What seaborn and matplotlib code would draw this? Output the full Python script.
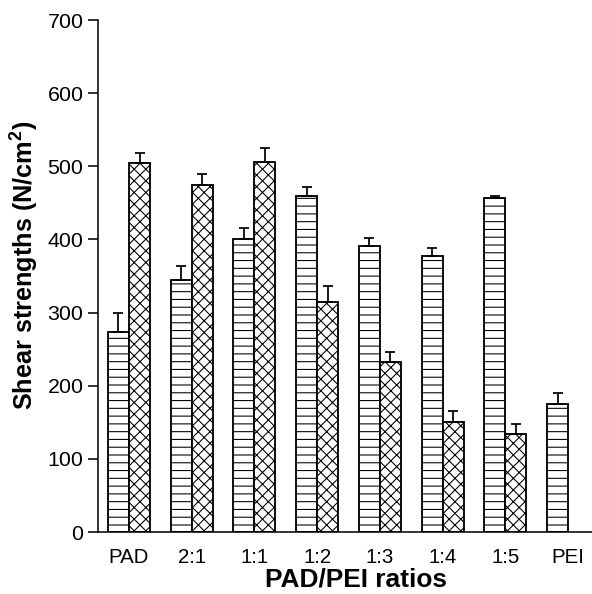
import numpy as np
import pandas as pd
import matplotlib
matplotlib.use("Agg")
import matplotlib.pyplot as plt
import seaborn as sns

# ---- data ----
ratios = ["PAD", "2:1", "1:1", "1:2", "1:3", "1:4", "1:5", "PEI"]
series_a = [274, 345, 401, 460, 391, 378, 456, 175]          # horizontal-line bars
series_a_err = [26, 18, 15, 11, 11, 10, 3, 15]
series_b = [505, 475, 506, 315, 233, 151, 134, np.nan]       # cross-hatched bars
series_b_err = [13, 15, 19, 22, 13, 15, 13, np.nan]
series_names = ["A", "B"]
yticks = [0, 100, 200, 300, 400, 500, 600, 700]

df = pd.DataFrame({
    "ratio": ratios * 2,
    "strength": series_a + series_b,
    "err": series_a_err + series_b_err,
    "series": [series_names[0]] * len(ratios) + [series_names[1]] * len(ratios),
})

sns.set_style("ticks")
plt.rcParams["font.family"] = ["Liberation Sans", "DejaVu Sans"]
plt.rcParams["mathtext.fontset"] = "custom"
plt.rcParams["mathtext.rm"] = "Liberation Sans"
plt.rcParams["mathtext.bf"] = "Liberation Sans:bold"
plt.rcParams["hatch.linewidth"] = 0.55
plt.rcParams["hatch.color"] = "black"
plt.rcParams["axes.edgecolor"] = "black"
plt.rcParams["text.color"] = "black"
plt.rcParams["axes.labelcolor"] = "black"
plt.rcParams["xtick.color"] = "black"
plt.rcParams["ytick.color"] = "black"

DPI = 140
fig = plt.figure(figsize=(592 / DPI, 594 / DPI), dpi=DPI)
ax = fig.add_axes([98 / 592, 62 / 594, 494 / 592, 512 / 594])

sns.barplot(data=df, x="ratio", y="strength", hue="series", order=ratios,
            hue_order=series_names, palette=["white", "white"],
            edgecolor="black", linewidth=0.95, width=0.67, errorbar=None,
            legend=False, ax=ax)

hatches = ["---", "xxxx"]
errs = {series_names[0]: series_a_err, series_names[1]: series_b_err}
for cont, name, h in zip(ax.containers, series_names, hatches):
    for bar in cont:
        hgt = bar.get_height()
        if not np.isfinite(hgt) or hgt == 0:
            continue
        bar.set_hatch(h)
        xc = bar.get_x() + bar.get_width() / 2
        idx = int(round(xc))
        e = errs[name][idx]
        ax.errorbar([xc], [hgt], yerr=[[0], [e]], fmt="none", ecolor="black",
                    elinewidth=0.9, capsize=2.8, capthick=0.9, zorder=3)

ax.set_ylim(0, 700)
ax.set_yticks(yticks)
ax.set_xlim(-0.494, 7.38)
sns.despine(ax=ax)
for s in ["left", "bottom"]:
    ax.spines[s].set_linewidth(0.8)
ax.tick_params(axis="y", length=5, width=0.8, pad=2.5, labelsize=11)
ax.tick_params(axis="x", length=0, pad=8, labelsize=10.5)

ax.set_xlabel("PAD/PEI ratios", fontsize=13.5, fontweight="bold")
ax.set_ylabel(r"Shear strengths (N/cm$^{\mathbf{2}}$)", fontsize=13, fontweight="bold")
ax.xaxis.set_label_coords(0.522, -0.07)
ax.yaxis.set_label_coords(-0.115, 0.52)

fig.savefig("out.png", dpi=DPI)
